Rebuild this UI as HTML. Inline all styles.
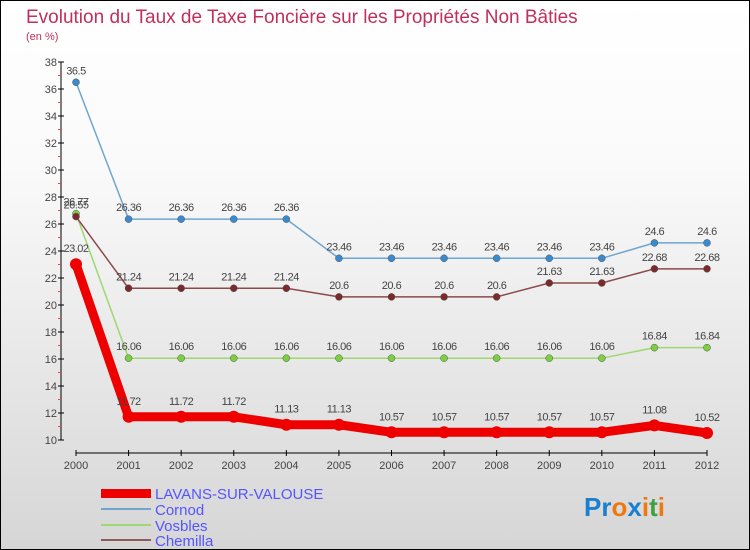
<!DOCTYPE html>
<html><head><meta charset="utf-8"><style>
body{margin:0}
#c{position:relative;width:748px;height:548px;border:1px solid #000;background:linear-gradient(#fff,#fafafa 30%,#d6d6d6);font-family:"Liberation Sans",sans-serif;overflow:hidden}
</style></head><body>
<div id="c">
<svg id="s" width="748" height="548">
<text x="25" y="22" font-size="19" fill="#c0305a">Evolution du Taux de Taxe Foncière sur les Propriétés Non Bâties</text>
<text x="25" y="39" font-size="11" fill="#c0305a">(en %)</text>
<g id="ax"></g><g id="ser"></g>
<g>
<rect x="100" y="488" width="50" height="9" fill="#e00"/>
<text x="154" y="498" font-size="15" fill="#55f">LAVANS-SUR-VALOUSE</text>
<line x1="100" y1="508" x2="150" y2="508" stroke="#6fa6d0" stroke-width="2"/>
<text x="154" y="514" font-size="15" fill="#55f">Cornod</text>
<line x1="100" y1="524" x2="150" y2="524" stroke="#9ed870" stroke-width="2"/>
<text x="154" y="530" font-size="15" fill="#55f">Vosbles</text>
<line x1="100" y1="539" x2="150" y2="539" stroke="#8b5a5a" stroke-width="2"/>
<text x="154" y="545" font-size="15" fill="#55f">Chemilla</text>
</g>
<text x="583" y="515" font-size="26" font-weight="bold"><tspan fill="#1a7fd0">Pr</tspan><tspan fill="#f07810">o</tspan><tspan fill="#1a7fd0">x</tspan><tspan fill="#f07810">i</tspan><tspan fill="#40a040">t</tspan><tspan fill="#f07810">i</tspan></text>
</svg></div>
<script>
const years=[2000,2001,2002,2003,2004,2005,2006,2007,2008,2009,2010,2011,2012];
const lavans=[23.02,11.72,11.72,11.72,11.13,11.13,10.57,10.57,10.57,10.57,10.57,11.08,10.52];
const cornod=[36.5,26.36,26.36,26.36,26.36,23.46,23.46,23.46,23.46,23.46,23.46,24.6,24.6];
const vosbles=[26.77,16.06,16.06,16.06,16.06,16.06,16.06,16.06,16.06,16.06,16.06,16.84,16.84];
const chemilla=[26.55,21.24,21.24,21.24,21.24,20.6,20.6,20.6,20.6,21.63,21.63,22.68,22.68];
const yTicks=[10,12,14,16,18,20,22,24,26,28,30,32,34,36,38];
const NS="http://www.w3.org/2000/svg";
const x=i=>75+i*(631/12), y=v=>439-(v-10)*13.5;
function mk(p,t,a){const e=document.createElementNS(NS,t);for(const k in a)e.setAttribute(k,a[k]);p.appendChild(e);return e;}
const ax=document.getElementById('ax');
let l=mk(ax,'line',{x1:60,y1:y(38),x2:60,y2:y(10),stroke:'#000'});


const yMax=yTicks[yTicks.length-1];
yTicks.forEach(v=>{
 mk(ax,'line',{x1:57,x2:63,y1:y(v),y2:y(v),stroke:'#000'});
 if(v<yMax) mk(ax,'line',{x1:57,x2:60,y1:y(v+1),y2:y(v+1),stroke:'#e44'});
 const t=mk(ax,'text',{x:56,y:y(v)+4,'font-size':11,'text-anchor':'end',fill:'#444'});t.textContent=v;
 
 
});
l=mk(ax,'line',{x1:x(0),x2:x(12),y1:452,y2:452,stroke:'#000'});


years.forEach((yr,i)=>{
 mk(ax,'line',{x1:x(i),x2:x(i),y1:449,y2:455,stroke:'#000'});
 const t=mk(ax,'text',{x:x(i),y:468,'font-size':11,'text-anchor':'middle',fill:'#444'});t.textContent=yr;
 
 
});
const ser=document.getElementById('ser');
function draw(d,name,col,dot,w,r){
 const g=mk(ser,'g',{});
 
 
 mk(g,'polyline',{points:d.map((v,i)=>x(i)+','+y(v)).join(' '),fill:'none',stroke:col,'stroke-width':w,'stroke-linejoin':'round'});
 d.forEach((v,i)=>{
  const c=mk(g,'circle',{cx:x(i),cy:y(v),r:r,fill:dot,stroke:'#555','stroke-width':w>3?0:0.5});
  
  
  const t=mk(g,'text',{x:x(i),y:y(v)-(w>3?12:8),'font-size':11,'text-anchor':'middle',fill:'#444','letter-spacing':'-0.5'});t.textContent=v;
  
  
 });
}
draw(cornod,'cornod','#6fa6d0','#3a8ad0',1.5,3.5);
draw(vosbles,'vosbles','#9ed870','#7cd040',1.5,3.5);
draw(chemilla,'chemilla','#8b4a4a','#7a2a2a',1.5,3.5);
draw(lavans,'lavans','#e00','#e00',9,6);
</script></body></html>
